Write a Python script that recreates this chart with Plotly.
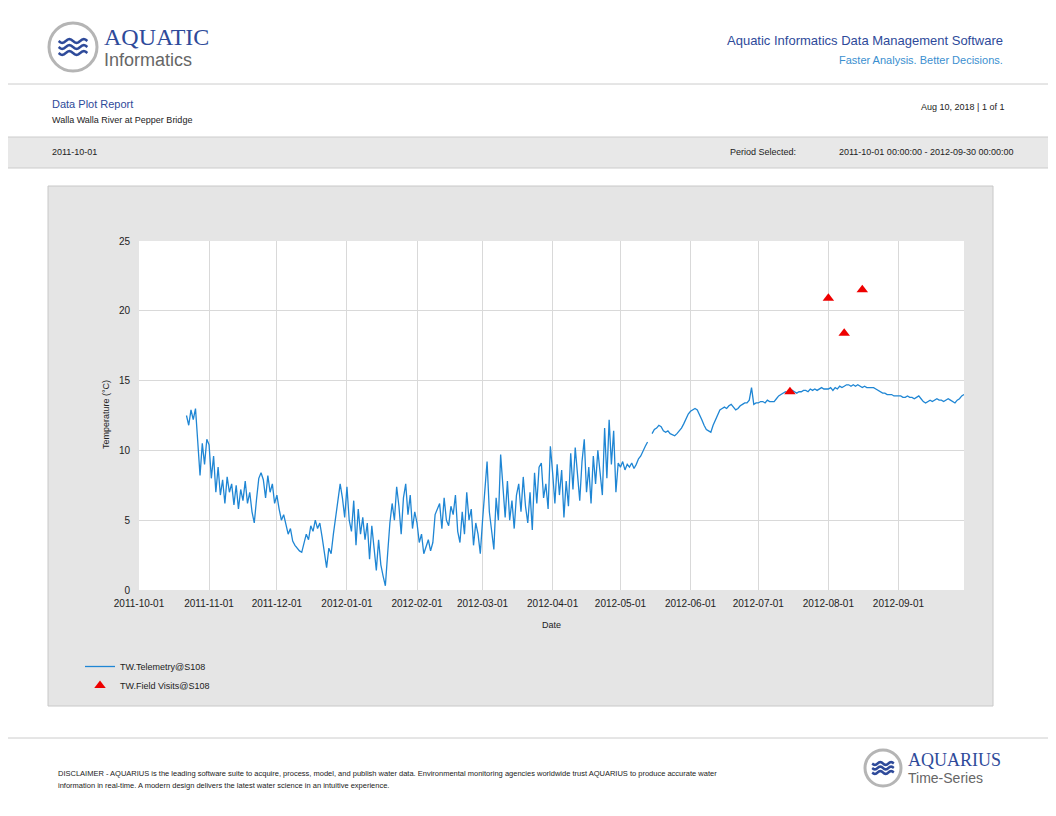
import plotly.graph_objects as go
import pandas as pd
import math

month_starts = ["2011-10-22","2011-11-01","2011-12-01","2012-01-01","2012-02-01","2012-03-01",
                "2012-04-01","2012-05-01","2012-06-01","2012-07-01","2012-08-01","2012-09-01"]
oct_v = [12.5,11.8,12.9,12.2,13.0,10.2,8.2,10.5,9.0,10.8]
nov_v = [10.4,8.0,9.6,7.0,8.8,6.8,7.9,6.2,8.1,7.0,7.6,6.1,7.5,5.8,7.2,6.4,7.8,6.2,7.0,5.6,4.8,6.5,8.0,8.4,7.9,6.6,8.2,7.0,7.6,6.2]
dec_v = [6.8,5.8,5.0,5.4,4.6,4.0,4.4,3.5,3.2,3.0,2.8,2.7,3.4,4.0,3.6,4.6,4.2,5.0,4.4,4.8,3.8,2.8,1.6,3.0,2.6,4.0,5.2,6.8,7.6,6.6,5.2]
jan_v = [7.4,5.0,4.2,6.4,3.2,5.8,4.0,5.2,3.6,4.8,2.2,4.6,3.0,1.4,3.6,1.8,1.0,0.3,2.6,4.8,6.2,5.0,7.4,6.0,4.0,6.6,7.6,5.4,6.8,4.4,5.6]
feb_v = [4.8,3.4,4.0,2.6,3.2,3.6,2.8,3.4,5.4,5.8,6.2,4.4,6.6,5.0,4.6,6.0,5.4,6.8,4.2,3.4,5.6,4.0,7.0,5.0,5.8,3.2,4.8,4.0,2.6]
mar_v = [5.0,6.8,9.2,5.6,4.0,2.9,6.6,5.0,9.7,7.4,5.2,7.8,5.0,6.4,4.4,6.8,7.6,5.6,8.1,6.0,4.8,7.0,4.3,8.4,6.2,8.8,9.1,6.6,7.6,5.8,10.3]
apr_v = [8.4,6.2,9.0,6.8,8.6,5.2,7.8,6.0,9.8,7.2,10.2,8.0,6.4,9.2,10.8,7.0,8.8,6.2,9.6,7.6,10.0,8.4,6.8,11.6,8.0,12.2,9.0,11.4,7.0,9.1]
may_v = [8.8,9.2,8.6,9.0,8.8,9.1,8.7,9.0,9.4,9.6,10.0,10.3,10.6,None,11.2,11.5,11.6,11.8,11.7,11.4,11.3,11.4,11.2,11.1,11.05,11.2,11.4,11.6,11.9,12.3,12.6]
jun_v = [12.8,12.9,13.0,12.9,12.6,12.2,11.8,11.5,11.4,11.3,11.8,12.2,12.6,12.9,13.0,13.1,13.0,13.2,13.3,13.1,12.9,13.0,13.2,13.3,13.4,13.4,13.6,14.5,13.3,13.4]
jul_v = [13.4,13.5,13.5,13.4,13.6,13.5,13.5,13.5,13.7,13.9,14.0,14.1,14.2,14.1,14.2,14.3,14.2,14.1,14.2,14.2,14.3,14.3,14.2,14.4,14.3,14.4,14.3,14.4,14.5,14.4,14.4]
aug_v = [14.4,14.5,14.3,14.5,14.4,14.6,14.5,14.6,14.7,14.7,14.6,14.7,14.6,14.7,14.6,14.5,14.6,14.5,14.5,14.5,14.5,14.4,14.3,14.2,14.1,14.1,14.0,14.0,14.0,13.9,13.9]
sep_v = [13.9,13.9,13.8,13.8,13.9,13.8,13.8,13.7,13.8,13.9,13.7,13.5,13.4,13.5,13.6,13.5,13.6,13.7,13.6,13.6,13.5,13.6,13.7,13.6,13.5,13.4,13.6,13.7,13.9,14.0]
months = [oct_v,nov_v,dec_v,jan_v,feb_v,mar_v,apr_v,may_v,jun_v,jul_v,aug_v,sep_v]

visit_dates = ["2012-07-15","2012-08-01","2012-08-08","2012-08-16"]
visit_vals = [14.2,20.9,18.4,21.5]

tick_dates = ["2011-10-01","2011-11-01","2011-12-01","2012-01-01","2012-02-01","2012-03-01",
              "2012-04-01","2012-05-01","2012-06-01","2012-07-01","2012-08-01","2012-09-01"]

xs, ys = [], []
for s, vals in zip(month_starts, months):
    xs += list(pd.date_range(s, periods=len(vals), freq="D"))
    ys += vals

W, H = 1056, 816
OFF = 8
def px(x): return (x - OFF) / W
def py(y): return 1 - (y - OFF) / H

FONT = "Liberation Sans"
fig = go.Figure()
fig.add_trace(go.Scatter(x=xs, y=ys, mode="lines", name="TW.Telemetry@S108",
                         line=dict(color="#1f86d4", width=1.3), connectgaps=False))
fig.add_trace(go.Scatter(x=visit_dates, y=visit_vals, mode="markers", name="TW.Field Visits@S108",
                         marker=dict(symbol="triangle-up", color="#ee0000", size=10)))

shapes = [
    dict(type="rect", xref="paper", yref="paper", x0=px(48), x1=px(993), y0=py(706), y1=py(186),
         fillcolor="#e5e5e5", line=dict(color="#c8c8c8", width=1), layer="below"),
    dict(type="rect", xref="paper", yref="paper", x0=px(139), x1=px(964), y0=py(590), y1=py(241),
         fillcolor="white", line=dict(width=0), layer="below"),
    dict(type="line", xref="paper", yref="paper", x0=px(0), x1=1, y0=py(84), y1=py(84), line=dict(color="#cccccc", width=1)),
    dict(type="rect", xref="paper", yref="paper", x0=px(0), x1=1, y0=py(168), y1=py(137),
         fillcolor="#e8e8e8", line=dict(color="#cccccc", width=1), layer="below"),
    dict(type="line", xref="paper", yref="paper", x0=px(0), x1=1, y0=py(738), y1=py(738), line=dict(color="#cccccc", width=1)),
]
for cx, cy, r in [(73, 47, 24), (883, 768, 18)]:
    shapes.append(dict(type="circle", xref="paper", yref="paper", x0=px(cx-r), x1=px(cx+r), y0=py(cy+r), y1=py(cy-r),
                       fillcolor="white", line=dict(color="#b5b5b5", width=3)))
    for k in (-1, 0, 1):
        yy = cy + k * r * 0.25
        pts = []
        n = 16
        for i in range(n + 1):
            xx = cx - r * 0.6 + 1.2 * r * i / n
            yv = yy + r * 0.08 * math.sin(i / n * 4 * math.pi)
            pts.append(f"{px(xx):.5f},{py(yv):.5f}")
        shapes.append(dict(type="path", xref="paper", yref="paper", path="M" + " L".join(pts),
                           line=dict(color="#2e4a9a", width=2.5)))

def ann(x, y, text, size=10, color="#333333", xanchor="left", family=FONT):
    return dict(x=px(x), y=py(y), xref="paper", yref="paper", text=text, showarrow=False,
                xanchor=xanchor, yanchor="middle", font=dict(size=size, color=color, family=family))

anns = [
    ann(102, 37, "AQUATIC", 24, "#2e4a9a", family="Liberation Serif"),
    ann(102, 60, "Informatics", 18, "#666666"),
    ann(1005, 41, "Aquatic Informatics Data Management Software", 13, "#2e4a9a", "right"),
    ann(1005, 60, "Faster Analysis. Better Decisions.", 11, "#3a8fd0", "right"),
    ann(50, 104, "Data Plot Report", 11, "#2e4a9a"),
    ann(50, 120, "Walla Walla River at Pepper Bridge", 9, "#222222"),
    ann(1006, 107, "Aug 10, 2018 | 1 of 1", 9, "#222222", "right"),
    ann(50, 152, "2011-10-01", 9, "#222222"),
    ann(728, 152, "Period Selected:", 9, "#222222"),
    ann(1015, 152, "2011-10-01 00:00:00 - 2012-09-30 00:00:00", 9, "#222222", "right"),
    ann(551, 625, "Date", 9, "#222222", "center"),
    dict(x=px(99), y=py(415), xref="paper", yref="paper", text="Temperature (°C)", showarrow=False,
         textangle=-90, font=dict(size=9, color="#222222", family=FONT)),
    ann(56, 773, "DISCLAIMER - AQUARIUS is the leading software suite to acquire, process, model, and publish water data. Environmental monitoring agencies worldwide trust AQUARIUS to produce accurate water", 7.5, "#222222"),
    ann(56, 785, "information in real-time. A modern design delivers the latest water science in an intuitive experience.", 7.5, "#222222"),
    ann(906, 760, "AQUARIUS", 18, "#2e4a9a", family="Liberation Serif"),
    ann(906, 778, "Time-Series", 14, "#666666"),
]

fig.update_layout(
    width=W, height=H, margin=dict(l=0, r=0, t=0, b=0, pad=0), autosize=False,
    paper_bgcolor="white", plot_bgcolor="white",
    font=dict(family=FONT, size=10, color="#222222"),
    shapes=shapes, annotations=anns,
    xaxis=dict(domain=[px(139), px(964)], range=["2011-10-01", "2012-09-30"], type="date",
               tickvals=tick_dates, ticktext=tick_dates, showgrid=True, gridcolor="#d9d9d9",
               zeroline=False, showline=False, ticks="", tickfont=dict(size=10), automargin=False,
               ticklabelstandoff=6),
    yaxis=dict(domain=[py(590), py(241)], range=[0, 25], tickvals=[0, 5, 10, 15, 20, 25],
               showgrid=True, gridcolor="#d9d9d9", zeroline=False, ticks="", tickfont=dict(size=10),
               automargin=False, ticklabelstandoff=8),
    legend=dict(x=px(80), y=py(652), xanchor="left", yanchor="top", bgcolor="rgba(0,0,0,0)",
                font=dict(size=9, color="#222222"), tracegroupgap=0),
    showlegend=True,
)
fig.write_html("out.html")
